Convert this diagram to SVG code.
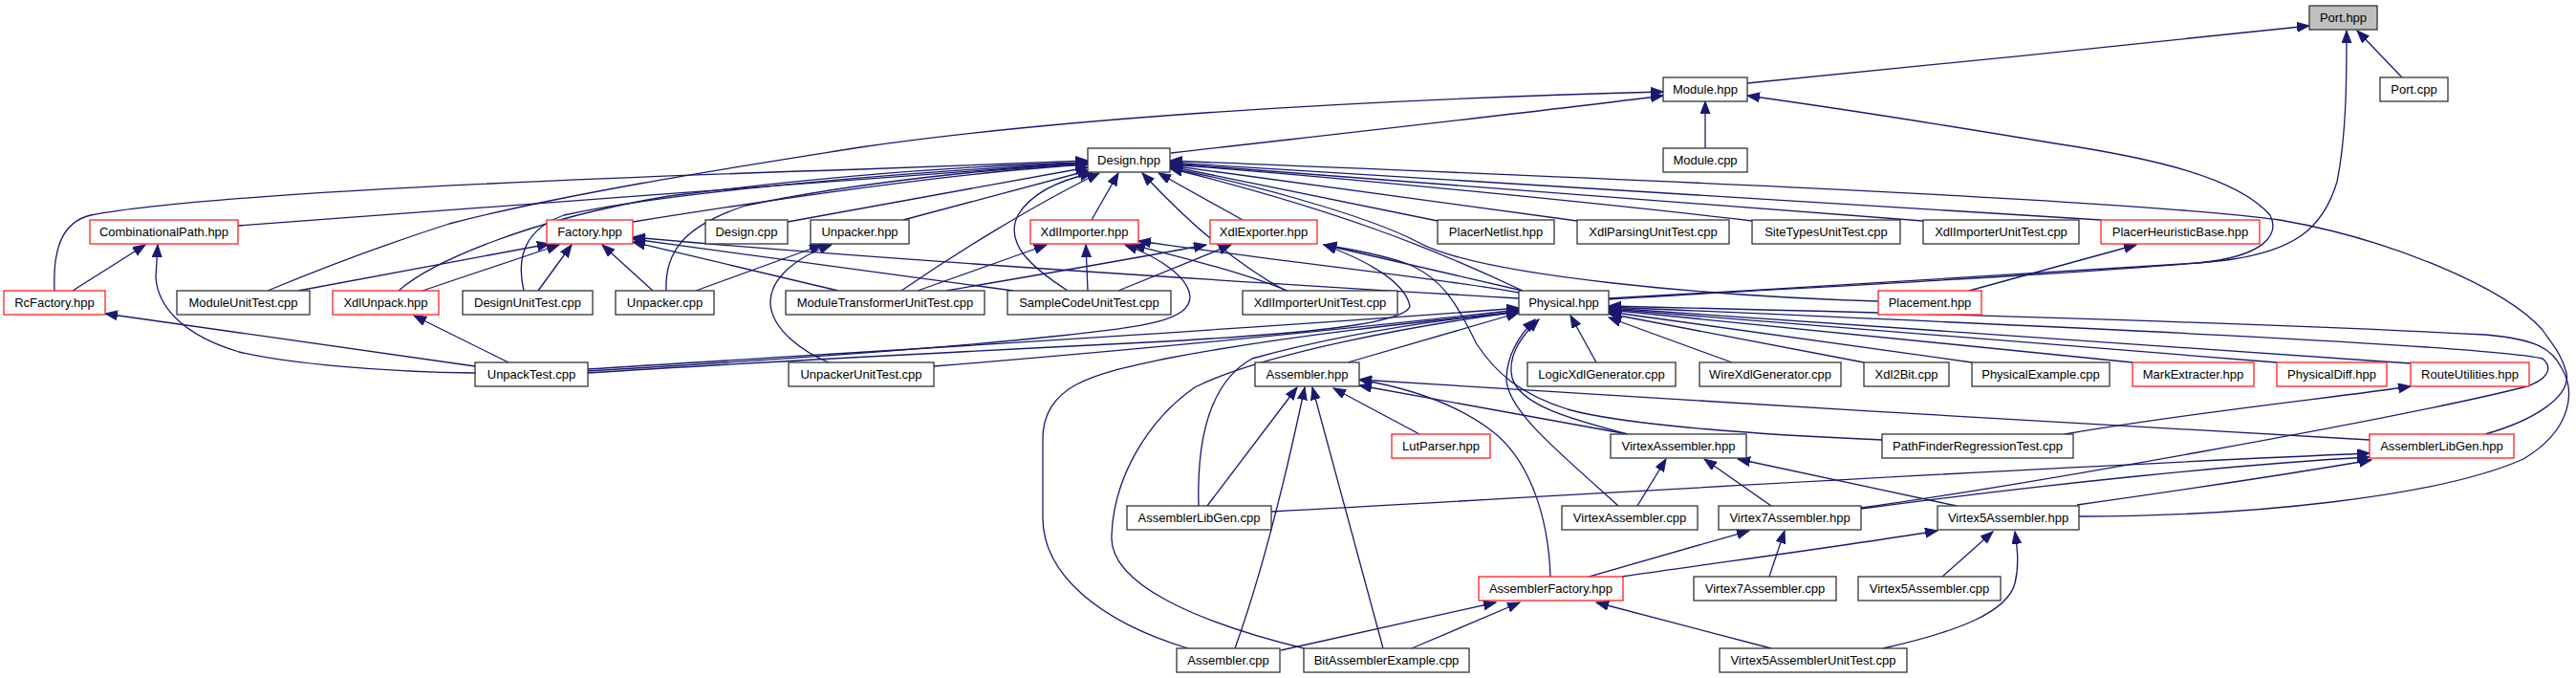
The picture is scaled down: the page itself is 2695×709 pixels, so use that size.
<svg xmlns="http://www.w3.org/2000/svg" width="2695" height="709" viewBox="0 0 2695 709">
<style>
.n rect{fill:#fff;stroke:#333;stroke-width:1.3}
.n.r rect{stroke:#ff2020}
.n.g rect{fill:#bfbfbf}
.n text{font-family:"Liberation Sans",Helvetica,Arial,sans-serif;font-size:13px;fill:#000;text-anchor:middle}
#edges path{fill:none;stroke:#191970;stroke-width:1.3;marker-end:url(#a)}
</style>
<defs>
<marker id="a" markerUnits="userSpaceOnUse" markerWidth="14" markerHeight="11" refX="13" refY="5" orient="auto">
<path d="M0,0 L13,5 L0,10 z" fill="#191970" stroke="#191970" stroke-width="1"/>
</marker>
</defs>
<rect width="2695" height="709" fill="#fff"/>
<g id="edges">
<path d="M1828,87 C2000,70 2250,45 2416,27"/>
<path d="M2513,81 L2466,32"/>
<path d="M1683,313 C1900,300 2200,285 2330,272 C2400,262 2430,240 2445,190 C2455,140 2455,80 2455,32"/>
<path d="M1683,312 C1900,300 2150,285 2300,275 C2370,268 2385,245 2375,225 C2340,185 2250,165 2150,150 C2000,125 1900,110 1828,100"/>
<path d="M1784,155 L1784,106"/>
<path d="M1225,160 C1400,140 1600,118 1740,100"/>
<path d="M280,304 C350,275 420,250 470,234 C600,200 800,170 900,154 C1100,125 1400,105 1740,96"/>
<path d="M249,236 C500,220 900,185 1138,170"/>
<path d="M57,304 C55,260 65,232 95,225 C200,205 500,190 900,177 L1138,168"/>
<path d="M417,304 C450,275 550,230 700,205 C900,180 1050,172 1138,170"/>
<path d="M312,304 L575,255"/>
<path d="M442,304 L585,256"/>
<path d="M662,232 C800,210 1000,180 1138,172"/>
<path d="M548,304 C540,270 548,240 590,225 C700,200 950,180 1138,170"/>
<path d="M697,304 C695,260 720,235 780,215 C900,190 1050,175 1138,172"/>
<path d="M824,232 L1138,175"/>
<path d="M945,230 L1140,178"/>
<path d="M943,304 C1000,265 1080,215 1150,181"/>
<path d="M1117,304 C1080,280 1050,255 1065,225 C1080,200 1110,188 1143,181"/>
<path d="M1142,230 L1170,181"/>
<path d="M1300,230 L1212,181"/>
<path d="M1345,304 C1300,280 1250,240 1195,181"/>
<path d="M1593,304 C1500,260 1400,220 1224,176"/>
<path d="M1504,231 L1224,174"/>
<path d="M1650,231 L1224,173"/>
<path d="M1833,231 C1700,215 1400,185 1224,172"/>
<path d="M2012,231 L1224,171"/>
<path d="M2198,230 L1224,170"/>
<path d="M1965,315 C1800,310 1550,290 1483,253 C1430,225 1300,190 1224,176"/>
<path d="M2600,454 C2650,440 2690,415 2685,390 C2680,370 2670,360 2660,345 C2620,300 2500,250 2385,230 C2200,205 1500,180 1224,168"/>
<path d="M563,304 L598,256"/>
<path d="M683,304 L630,256"/>
<path d="M877,304 L662,253"/>
<path d="M1060,304 L662,250"/>
<path d="M1589,312 C1300,295 900,270 662,248"/>
<path d="M76,304 L152,256"/>
<path d="M497,390 C400,389 300,380 250,368 C190,350 165,320 163,290 L165,256"/>
<path d="M497,383 L110,328"/>
<path d="M532,379 L433,330"/>
<path d="M728,304 L860,256"/>
<path d="M867,379 C840,368 808,345 806,318 C805,290 835,268 870,256"/>
<path d="M960,304 L1095,256"/>
<path d="M1138,304 L1136,256"/>
<path d="M615,388 C750,380 950,368 1100,352 C1200,342 1245,335 1245,310 C1243,290 1215,270 1177,256"/>
<path d="M1347,304 C1300,285 1240,270 1185,256"/>
<path d="M1589,306 C1500,290 1350,275 1191,252"/>
<path d="M990,304 C1100,285 1200,268 1262,256"/>
<path d="M1170,304 L1288,256"/>
<path d="M615,390 C800,378 1000,368 1200,358 C1350,350 1470,340 1475,320 C1470,295 1430,272 1385,256"/>
<path d="M1593,304 L1385,256"/>
<path d="M1969,460 C1850,455 1700,445 1640,428 C1590,412 1565,390 1545,360 C1525,320 1510,290 1470,275 C1440,265 1410,260 1385,256"/>
<path d="M615,386 C900,368 1300,345 1589,322"/>
<path d="M977,383 C1200,365 1400,345 1589,324"/>
<path d="M1410,379 L1589,327"/>
<path d="M1254,529 C1252,460 1265,400 1310,375 C1400,350 1500,335 1589,326"/>
<path d="M1243,678 C1150,650 1090,600 1091,540 L1091,460 C1090,400 1150,390 1220,375 C1350,350 1500,335 1589,326"/>
<path d="M1364,678 C1250,650 1160,610 1163,560 C1165,500 1200,440 1250,405 C1320,370 1480,340 1589,326"/>
<path d="M1703,454 C1650,440 1590,425 1582,395 C1576,370 1595,348 1610,334"/>
<path d="M1693,529 C1640,480 1575,430 1576,395 C1577,368 1592,348 1606,334"/>
<path d="M1670,379 L1643,330"/>
<path d="M1812,379 L1683,332"/>
<path d="M1950,379 L1683,328"/>
<path d="M2063,379 L1683,326"/>
<path d="M2231,379 L1683,324"/>
<path d="M2382,379 L1683,323"/>
<path d="M2522,380 L1683,322"/>
<path d="M1263,529 L1357,405"/>
<path d="M1292,678 C1320,600 1345,500 1365,405"/>
<path d="M1447,678 L1373,405"/>
<path d="M1485,454 L1395,406"/>
<path d="M1622,603 C1620,540 1600,480 1560,450 C1520,420 1470,405 1422,397"/>
<path d="M1703,454 L1422,403"/>
<path d="M2479,460 C2200,445 1700,415 1422,397"/>
<path d="M1330,535 C1700,515 2100,490 2479,474"/>
<path d="M1947,532 C2150,505 2350,485 2479,478"/>
<path d="M2173,528 C2300,510 2400,495 2481,481"/>
<path d="M1713,529 L1743,480"/>
<path d="M1853,529 L1783,480"/>
<path d="M2047,529 L1818,480"/>
<path d="M1851,603 L1867,555"/>
<path d="M1662,603 L1830,555"/>
<path d="M1947,531 C2100,510 2500,440 2640,405 C2665,398 2672,385 2660,375 C2600,360 2000,335 1683,321"/>
<path d="M2032,603 L2085,556"/>
<path d="M1970,678 C2050,660 2100,640 2108,610 C2113,590 2110,570 2108,556"/>
<path d="M1697,603 C1800,588 1950,568 2027,555"/>
<path d="M2175,540 C2350,540 2550,520 2640,480 C2690,450 2695,410 2680,385 C2670,365 2655,355 2600,350 C2300,335 1900,325 1683,320"/>
<path d="M1340,680 L1565,630"/>
<path d="M1477,678 L1590,630"/>
<path d="M1853,678 L1670,630"/>
<path d="M2160,454 C2300,430 2450,415 2522,404"/>
<path d="M2060,304 L2235,256"/>
</g>
<g id="n_port_hpp" class="n g"><rect x="2416" y="6" width="71" height="25"/><text x="2451.5" y="23">Port.hpp</text></g>
<g id="n_port_cpp" class="n"><rect x="2490" y="81" width="71" height="25"/><text x="2525.5" y="98">Port.cpp</text></g>
<g id="n_module_hpp" class="n"><rect x="1740" y="81" width="88" height="25"/><text x="1784" y="98">Module.hpp</text></g>
<g id="n_design_hpp" class="n"><rect x="1138" y="155" width="86" height="25"/><text x="1181" y="172">Design.hpp</text></g>
<g id="n_module_cpp" class="n"><rect x="1740" y="155" width="88" height="25"/><text x="1784" y="172">Module.cpp</text></g>
<g id="n_combpath" class="n r"><rect x="94" y="230" width="155" height="25"/><text x="171.5" y="247">CombinationalPath.hpp</text></g>
<g id="n_factory" class="n r"><rect x="572" y="230" width="90" height="25"/><text x="617" y="247">Factory.hpp</text></g>
<g id="n_design_cpp" class="n"><rect x="738" y="230" width="86" height="25"/><text x="781" y="247">Design.cpp</text></g>
<g id="n_unpacker_hpp" class="n"><rect x="848" y="230" width="103" height="25"/><text x="899.5" y="247">Unpacker.hpp</text></g>
<g id="n_xdlimporter" class="n r"><rect x="1078" y="230" width="113" height="25"/><text x="1134.5" y="247">XdlImporter.hpp</text></g>
<g id="n_xdlexporter" class="n r"><rect x="1266" y="230" width="112" height="25"/><text x="1322" y="247">XdlExporter.hpp</text></g>
<g id="n_placernetlist" class="n"><rect x="1504" y="230" width="122" height="25"/><text x="1565" y="247">PlacerNetlist.hpp</text></g>
<g id="n_xdlparsing" class="n"><rect x="1650" y="230" width="159" height="25"/><text x="1729.5" y="247">XdlParsingUnitTest.cpp</text></g>
<g id="n_sitetypes" class="n"><rect x="1833" y="230" width="155" height="25"/><text x="1910.5" y="247">SiteTypesUnitTest.cpp</text></g>
<g id="n_xdlimpunit1" class="n"><rect x="2012" y="230" width="163" height="25"/><text x="2093.5" y="247">XdlImporterUnitTest.cpp</text></g>
<g id="n_placerheur" class="n r"><rect x="2198" y="230" width="166" height="25"/><text x="2281" y="247">PlacerHeuristicBase.hpp</text></g>
<g id="n_rcfactory" class="n r"><rect x="4" y="304" width="106" height="25"/><text x="57" y="321">RcFactory.hpp</text></g>
<g id="n_moduleunit" class="n"><rect x="185" y="304" width="139" height="25"/><text x="254.5" y="321">ModuleUnitTest.cpp</text></g>
<g id="n_xdlunpack" class="n r"><rect x="348" y="304" width="111" height="25"/><text x="403.5" y="321">XdlUnpack.hpp</text></g>
<g id="n_designunit" class="n"><rect x="484" y="304" width="136" height="25"/><text x="552" y="321">DesignUnitTest.cpp</text></g>
<g id="n_unpacker_cpp" class="n"><rect x="644" y="304" width="103" height="25"/><text x="695.5" y="321">Unpacker.cpp</text></g>
<g id="n_modtrans" class="n"><rect x="822" y="304" width="208" height="25"/><text x="926" y="321">ModuleTransformerUnitTest.cpp</text></g>
<g id="n_samplecode" class="n"><rect x="1054" y="304" width="171" height="25"/><text x="1139.5" y="321">SampleCodeUnitTest.cpp</text></g>
<g id="n_xdlimpunit2" class="n"><rect x="1300" y="304" width="162" height="25"/><text x="1381" y="321">XdlImporterUnitTest.cpp</text></g>
<g id="n_physical" class="n"><rect x="1589" y="304" width="94" height="25"/><text x="1636" y="321">Physical.hpp</text></g>
<g id="n_placement" class="n r"><rect x="1965" y="304" width="108" height="25"/><text x="2019" y="321">Placement.hpp</text></g>
<g id="n_unpacktest" class="n"><rect x="497" y="379" width="118" height="25"/><text x="556" y="396">UnpackTest.cpp</text></g>
<g id="n_unpackerunit" class="n"><rect x="825" y="379" width="152" height="25"/><text x="901" y="396">UnpackerUnitTest.cpp</text></g>
<g id="n_assembler_hpp" class="n"><rect x="1313" y="379" width="109" height="25"/><text x="1367.5" y="396">Assembler.hpp</text></g>
<g id="n_logicxdl" class="n"><rect x="1598" y="379" width="155" height="25"/><text x="1675.5" y="396">LogicXdlGenerator.cpp</text></g>
<g id="n_wirexdl" class="n"><rect x="1778" y="379" width="148" height="25"/><text x="1852" y="396">WireXdlGenerator.cpp</text></g>
<g id="n_xdl2bit" class="n"><rect x="1950" y="379" width="89" height="25"/><text x="1994.5" y="396">Xdl2Bit.cpp</text></g>
<g id="n_physexample" class="n"><rect x="2063" y="379" width="144" height="25"/><text x="2135" y="396">PhysicalExample.cpp</text></g>
<g id="n_markextr" class="n r"><rect x="2231" y="379" width="127" height="25"/><text x="2294.5" y="396">MarkExtracter.hpp</text></g>
<g id="n_physdiff" class="n r"><rect x="2382" y="379" width="115" height="25"/><text x="2439.5" y="396">PhysicalDiff.hpp</text></g>
<g id="n_routeutil" class="n r"><rect x="2522" y="379" width="124" height="25"/><text x="2584" y="396">RouteUtilities.hpp</text></g>
<g id="n_lutparser" class="n r"><rect x="1456" y="454" width="103" height="25"/><text x="1507.5" y="471">LutParser.hpp</text></g>
<g id="n_virtexasm_hpp" class="n"><rect x="1685" y="454" width="142" height="25"/><text x="1756" y="471">VirtexAssembler.hpp</text></g>
<g id="n_pathfinder" class="n"><rect x="1969" y="454" width="200" height="25"/><text x="2069" y="471">PathFinderRegressionTest.cpp</text></g>
<g id="n_asmlibgen_hpp" class="n r"><rect x="2479" y="454" width="151" height="25"/><text x="2554.5" y="471">AssemblerLibGen.hpp</text></g>
<g id="n_asmlibgen_cpp" class="n"><rect x="1179" y="529" width="151" height="25"/><text x="1254.5" y="546">AssemblerLibGen.cpp</text></g>
<g id="n_virtexasm_cpp" class="n"><rect x="1634" y="529" width="142" height="25"/><text x="1705" y="546">VirtexAssembler.cpp</text></g>
<g id="n_v7asm_hpp" class="n"><rect x="1798" y="529" width="149" height="25"/><text x="1872.5" y="546">Virtex7Assembler.hpp</text></g>
<g id="n_v5asm_hpp" class="n"><rect x="2027" y="529" width="148" height="25"/><text x="2101" y="546">Virtex5Assembler.hpp</text></g>
<g id="n_asmfactory" class="n r"><rect x="1547" y="603" width="151" height="25"/><text x="1622.5" y="620">AssemblerFactory.hpp</text></g>
<g id="n_v7asm_cpp" class="n"><rect x="1772" y="603" width="149" height="25"/><text x="1846.5" y="620">Virtex7Assembler.cpp</text></g>
<g id="n_v5asm_cpp" class="n"><rect x="1944" y="603" width="149" height="25"/><text x="2018.5" y="620">Virtex5Assembler.cpp</text></g>
<g id="n_assembler_cpp" class="n"><rect x="1231" y="678" width="108" height="25"/><text x="1285" y="695">Assembler.cpp</text></g>
<g id="n_bitasm" class="n"><rect x="1364" y="678" width="173" height="25"/><text x="1450.5" y="695">BitAssemblerExample.cpp</text></g>
<g id="n_v5asmunit" class="n"><rect x="1799" y="678" width="196" height="25"/><text x="1897" y="695">Virtex5AssemblerUnitTest.cpp</text></g>
</svg>
